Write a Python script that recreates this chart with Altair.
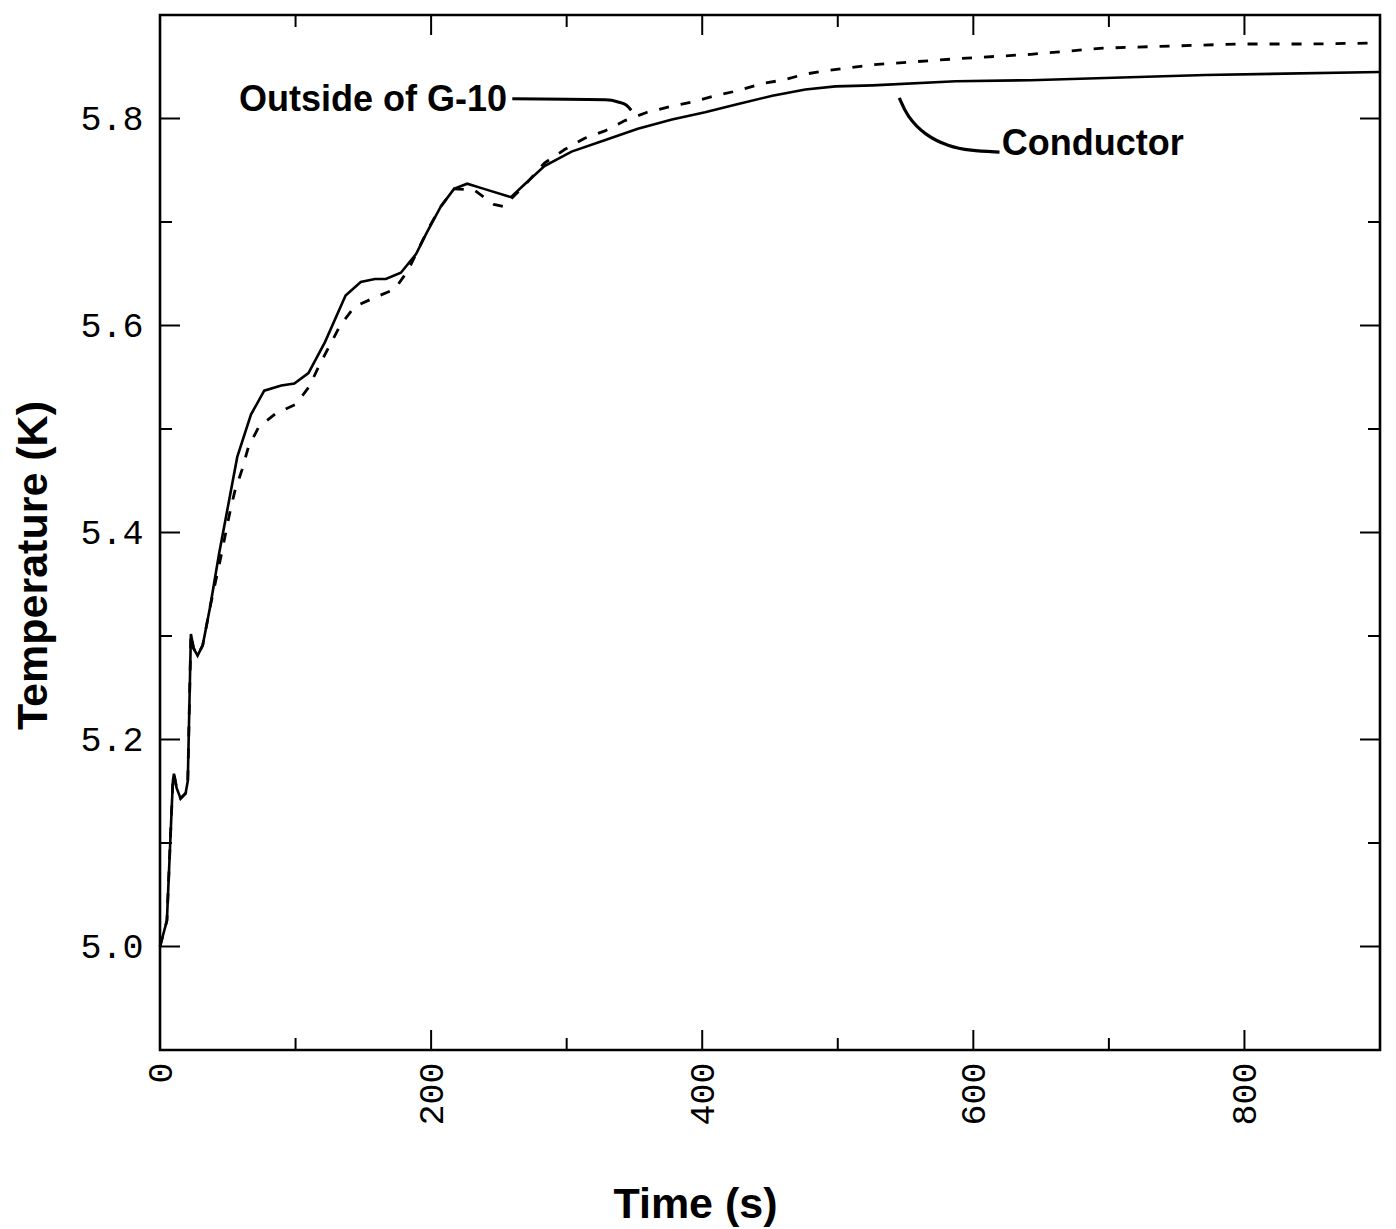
import altair as alt
import pandas as pd

# Conductor (solid line)
time_cond = [0, 5.1, 7.2, 9.5, 10.3, 12.3, 15.2, 18.9, 20.5, 22.8, 24.8, 27.7, 31.5, 37.1,
             43.5, 57.0, 67.1, 76.9, 89.5, 99.1, 109.5, 121.7, 136.9, 148.1, 158.5, 166.6,
             177.7, 188.9, 196.5, 207.2, 216.9, 226.6, 239.0, 258.9, 268.6, 283.6, 303.6,
             328.0, 352.5, 377.7, 402.1, 426.5, 451.7, 476.1, 498.3, 525.6, 587, 642, 771, 900]
temp_cond = [5.000, 5.025, 5.090, 5.160, 5.167, 5.153, 5.143, 5.148, 5.160, 5.302, 5.288,
             5.281, 5.291, 5.329, 5.379, 5.473, 5.514, 5.537, 5.542, 5.544, 5.554, 5.584,
             5.629, 5.642, 5.645, 5.645, 5.651, 5.669, 5.689, 5.715, 5.732, 5.737, 5.732,
             5.724, 5.736, 5.754, 5.768, 5.779, 5.790, 5.799, 5.806, 5.814, 5.822, 5.828,
             5.831, 5.832, 5.836, 5.837, 5.842, 5.845]

# Outside of G-10 (dashed line)
time_g10 = [0, 5.1, 7.2, 9.5, 10.3, 12.3, 15.2, 18.9, 20.5, 22.8, 24.8, 27.7, 31.5, 37.1,
            45.0, 51.3, 55.2, 60.6, 65.3, 72.9, 85.5, 100.4, 110.1, 117.7, 125.3, 132.9,
            143.4, 158.3, 173.1, 182.9, 198.1, 207.2, 216.9, 231.7, 246.3, 253.6, 270.8,
            283.6, 298.5, 313.3, 328.2, 343.0, 359.4, 377.8, 392.6, 409.7, 426.7, 444.5,
            459.2, 476.3, 491.1, 508.0, 525.8, 590.8, 642.4, 695.6, 745.8, 796, 849, 900]
temp_g10 = [5.000, 5.025, 5.090, 5.160, 5.167, 5.153, 5.143, 5.148, 5.160, 5.302, 5.288,
            5.281, 5.291, 5.329, 5.377, 5.418, 5.440, 5.461, 5.483, 5.502, 5.515, 5.524,
            5.541, 5.562, 5.581, 5.600, 5.618, 5.627, 5.635, 5.653, 5.694, 5.715, 5.732,
            5.731, 5.717, 5.715, 5.738, 5.757, 5.770, 5.781, 5.788, 5.798, 5.806, 5.812,
            5.816, 5.822, 5.827, 5.834, 5.837, 5.843, 5.846, 5.849, 5.852, 5.858, 5.862,
            5.868, 5.870, 5.872, 5.872, 5.873]

# Annotation leader paths (data coordinates)
lead_g10_t = [259.9, 328.5, 338.0, 343.9, 347.6]
lead_g10_T = [5.819, 5.818, 5.816, 5.813, 5.808]
lead_cond_t = [545.4, 551.1, 564.2, 581.7, 597.2, 619.3]
lead_cond_T = [5.820, 5.802, 5.784, 5.773, 5.769, 5.7675]

label_text = ["Outside of G-10", "Conductor"]
label_t = [256.0, 621.0]
label_T = [5.818, 5.775]
label_align = ["right", "left"]

x_major = [0, 200, 400, 600, 800]
x_minor = [100, 300, 500, 700]
y_major = [5.0, 5.2, 5.4, 5.6, 5.8]
y_minor = [5.1, 5.3, 5.5, 5.7]

W, H = 1220, 1035
MAJ, MIN = 20, 12

xs = alt.Scale(domain=[0, 900], nice=False, zero=False)
ys = alt.Scale(domain=[4.9, 5.9], nice=False, zero=False)

tick_font = "Liberation Mono"
title_font = "Liberation Sans"

xaxis = alt.Axis(values=x_major, format="d", ticks=False, domain=False, grid=False,
                 labelAngle=270, labelAlign="right", labelBaseline="middle",
                 labelPadding=12, labelFont=tick_font, labelFontSize=35,
                 labelColor="black", title="Time (s)", titleFont=title_font,
                 titleFontSize=43, titleFontWeight="bold", titleColor="black",
                 titleX=535, titleY=154, titleBaseline="middle", titleAlign="center")
yaxis = alt.Axis(values=y_major, format=".1f", ticks=False, domain=False, grid=False,
                 labelPadding=17, labelFont=tick_font, labelFontSize=35,
                 labelColor="black", title="Temperature (K)", titleFont=title_font,
                 titleFontSize=43, titleFontWeight="bold", titleColor="black",
                 titleAngle=270, titleX=-127, titleY=550, titleAlign="center",
                 titleBaseline="middle")

X = alt.X("t:Q", scale=xs, axis=xaxis)
Y = alt.Y("T:Q", scale=ys, axis=yaxis)

cond = pd.DataFrame({"t": time_cond, "T": temp_cond, "i": range(len(time_cond))})
g10 = pd.DataFrame({"t": time_g10, "T": temp_g10, "i": range(len(time_g10))})
lg = pd.DataFrame({"t": lead_g10_t, "T": lead_g10_T, "i": range(len(lead_g10_t))})
lc = pd.DataFrame({"t": lead_cond_t, "T": lead_cond_T, "i": range(len(lead_cond_t))})

line_cond = alt.Chart(cond).mark_line(color="black", strokeWidth=2.6).encode(x=X, y=Y, order="i:Q")
line_g10 = alt.Chart(g10).mark_line(color="black", strokeWidth=2.8, strokeDash=[10, 12]).encode(
    x=X, y=Y, order="i:Q")
lead1 = alt.Chart(lg).mark_line(color="black", strokeWidth=3, interpolate="monotone").encode(
    x=X, y=Y, order="i:Q")
lead2 = alt.Chart(lc).mark_line(color="black", strokeWidth=3.2, interpolate="basis").encode(
    x=X, y=Y, order="i:Q")

labels = []
for txt, tt, TT, al in zip(label_text, label_t, label_T, label_align):
    d = pd.DataFrame({"t": [tt], "T": [TT], "label": [txt]})
    labels.append(alt.Chart(d).mark_text(align=al, baseline="middle", font=title_font,
                                         fontSize=36, fontWeight="bold", color="black")
                  .encode(x=X, y=Y, text="label:N"))

def xticks(vals, length):
    d = pd.DataFrame({"t": vals})
    bottom = alt.Chart(d).mark_rule(color="black", strokeWidth=2).encode(
        x=X, y=alt.value(H), y2=alt.value(H - length))
    top = alt.Chart(d).mark_rule(color="black", strokeWidth=2).encode(
        x=X, y=alt.value(0), y2=alt.value(length))
    return [bottom, top]

def yticks(vals, length):
    d = pd.DataFrame({"T": vals})
    left = alt.Chart(d).mark_rule(color="black", strokeWidth=2).encode(
        y=Y, x=alt.value(0), x2=alt.value(length))
    right = alt.Chart(d).mark_rule(color="black", strokeWidth=2).encode(
        y=Y, x=alt.value(W), x2=alt.value(W - length))
    return [left, right]

layers = ([line_g10, line_cond, lead1, lead2] + labels
          + xticks(x_major, MAJ) + xticks(x_minor, MIN)
          + yticks(y_major, MAJ) + yticks(y_minor, MIN))

chart = alt.layer(*layers).properties(
    width=W, height=H,
    autosize=alt.AutoSizeParams(type="none"),
    padding={"left": 160, "top": 15, "right": 16, "bottom": 179},
    background="white",
).configure_view(stroke="black", strokeWidth=2.6)

chart.save("out.html", embed_options={"renderer": "svg", "actions": False})
